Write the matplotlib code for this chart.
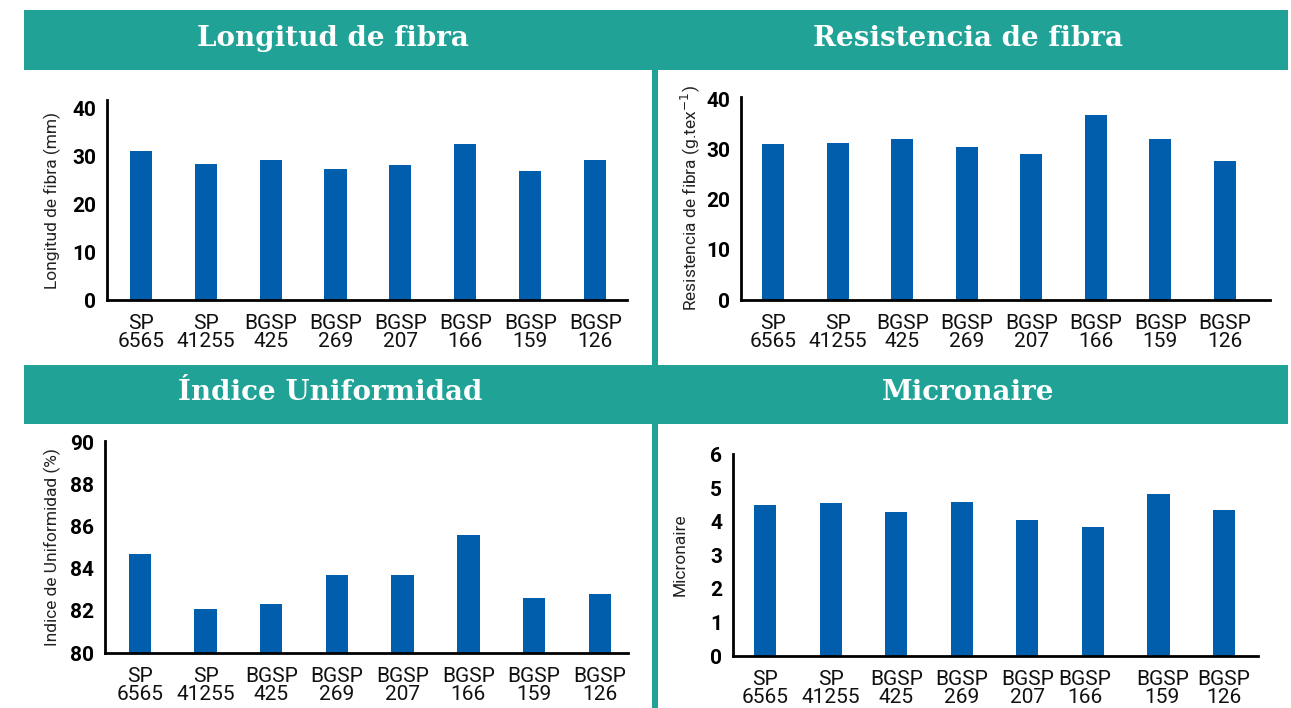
import numpy as np
import matplotlib
matplotlib.use("Agg")
import matplotlib.pyplot as plt
from matplotlib.patches import Rectangle
from matplotlib.transforms import ScaledTranslation

# data
genotipos = ["SP\n6565", "SP\n41255", "BGSP\n425", "BGSP\n269",
             "BGSP\n207", "BGSP\n166", "BGSP\n159", "BGSP\n126"]
longitud = [31.0, 28.4, 29.1, 27.4, 28.1, 32.6, 27.0, 29.1]
resistencia = [31.1, 31.3, 32.1, 30.5, 29.1, 36.9, 32.1, 27.7]
uniformidad = [84.7, 82.1, 82.3, 83.7, 83.7, 85.6, 82.6, 82.8]
micronaire = [4.49, 4.55, 4.29, 4.58, 4.05, 3.84, 4.82, 4.35]

ticks_long = [0, 10, 20, 30, 40]
ticks_res = [0, 10, 20, 30, 40]
ticks_unif = [80, 82, 84, 86, 88, 90]
ticks_mic = [0, 1, 2, 3, 4, 5, 6]

W, H = 1291, 708
teal = "#20a396"
azul = "#005eac"
sans = ["Roboto", "DejaVu Sans"]

fig = plt.figure(figsize=(W / 100, H / 100), dpi=100)


def px_rect(x0, y0, x1, y1):
    # pixel box (top-left origin) -> figure fraction
    return [x0 / W, 1 - y1 / H, (x1 - x0) / W, (y1 - y0) / H]


# teal header bands and separators
for (x0, y0, x1, y1) in [(24, 10, 1288, 70), (24, 365, 1288, 424),
                         (652, 70, 658, 365), (652, 424, 658, 708)]:
    r = px_rect(x0, y0, x1, y1)
    fig.patches.append(Rectangle((r[0], r[1]), r[2], r[3], transform=fig.transFigure,
                                 facecolor=teal, edgecolor="none", zorder=0))

titulos = [("Longitud de fibra", 333, 39), ("Resistencia de fibra", 968, 39),
           ("Índice Uniformidad", 330, 392), ("Micronaire", 968, 392)]
for txt, x, y in titulos:
    fig.text(x / W, 1 - y / H, txt, color="white", fontsize=20, fontweight="bold",
             family="DejaVu Serif", ha="center", va="center")

paneles = [
    (longitud, ticks_long, (0, 41.7), (-0.52, 7.49), (107, 100, 627, 300),
     "Longitud de fibra (mm)", 52),
    (resistencia, ticks_res, (0, 40.4), (-0.5, 7.7), (741, 97, 1270, 300),
     r"Resistencia de fibra (g.tex$^{-1}$)", 690),
    (uniformidad, ticks_unif, (80, 90.05), (-0.53, 7.43), (105, 441, 628, 653),
     "Indice de Uniformidad (%)", 52),
    (micronaire, ticks_mic, (0, 6.02), (-0.49, 7.52), (733, 454, 1258, 656),
     "Micronaire", 680),
]

x = np.arange(len(genotipos))
for i, (vals, yt, ylim, xlim, box, ylab, ylx) in enumerate(paneles):
    ax = fig.add_axes(px_rect(*box))
    base = ylim[0]
    ax.bar(x, np.array(vals) - base, bottom=base, width=0.34, color=azul, zorder=2)
    ax.set_xlim(*xlim)
    ax.set_ylim(*ylim)
    ax.set_yticks(yt)
    ax.set_yticklabels([str(t) for t in yt], fontsize=15, fontweight="bold", family=sans)
    ax.set_xticks(x)
    ax.set_xticklabels(genotipos, fontsize=15, family=sans, linespacing=0.92,
                       color="#111111")
    ax.tick_params(axis="x", length=0, pad=10)
    ax.tick_params(axis="y", length=0, pad=8)
    for s in ["top", "right"]:
        ax.spines[s].set_visible(False)
    for s in ["left", "bottom"]:
        ax.spines[s].set_linewidth(2)
    yc = (box[1] + box[3]) / 2
    fig.text(ylx / W, 1 - yc / H, ylab, rotation=90, fontsize=12.5, family=sans,
             ha="center", va="center", color="#222222")
    if i == 3:
        offs = [0, 0, 0, 0, 0, -8, 4, 0]
        for lbl, dx in zip(ax.get_xticklabels(), offs):
            lbl.set_transform(lbl.get_transform() + ScaledTranslation(dx / 100, 0, fig.dpi_scale_trans))

fig.savefig("out.png", dpi=100)
